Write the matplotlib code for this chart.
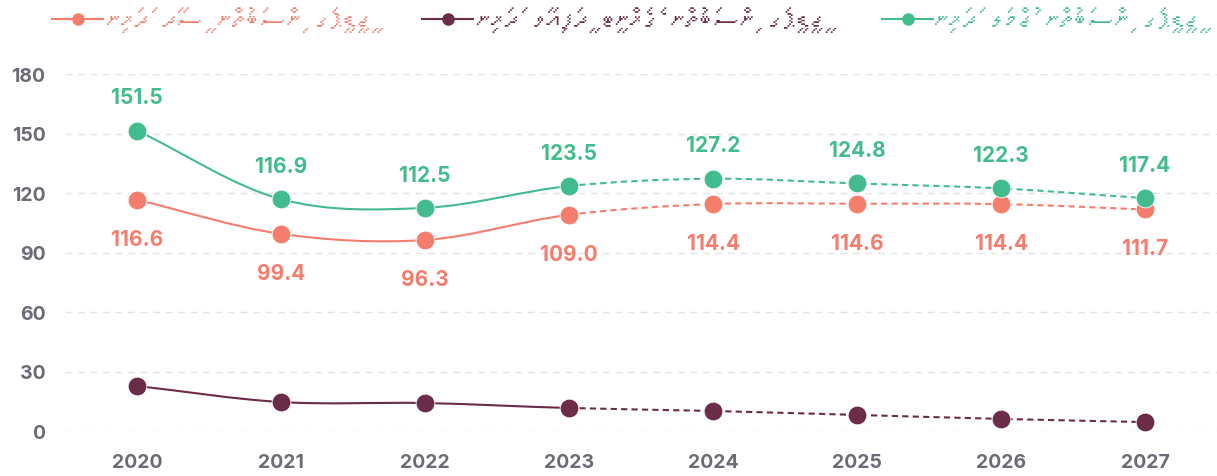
import unicodedata
import matplotlib
matplotlib.use("Agg")
import matplotlib.pyplot as plt
from matplotlib import font_manager
from matplotlib.lines import Line2D
from matplotlib.path import Path
from matplotlib.patches import PathPatch

# data
years = ["2020", "2021", "2022", "2023", "2024", "2025", "2026", "2027"]
total_debt = [151.5, 116.9, 112.5, 123.5, 127.2, 124.8, 122.3, 117.4]
direct_debt = [116.6, 99.4, 96.3, 109.0, 114.4, 114.6, 114.4, 111.7]
guaranteed_debt = [22.7, 14.6, 14.1, 11.6, 10.1, 8.1, 6.1, 4.5]
yticks = [0, 30, 60, 90, 120, 150, 180]

label_total = "ޖީޑީޕީގެ ނިސްބަތުން ޖުމްލަ ދަރަނި"
label_direct = "ޖީޑީޕީގެ ނިސްބަތުން ސީދާ ދަރަނި"
label_guar = "ޖީޑީޕީގެ ނިސްބަތުން ގެރެންޓީ ދީފައިވާ ދަރަނި"

GREEN = "#43bc8d"
RED = "#f47d6d"
PURPLE = "#6a2c49"
GREY = "#6d6a76"
SPLIT = 3  # index where projections start (dashed)


def find_thaana_font():
    for f in font_manager.fontManager.ttflist:
        try:
            ft = matplotlib.ft2font.FT2Font(f.fname)
            if 0x0796 in ft.get_charmap():
                return f.name
        except Exception:
            pass
    return "DejaVu Sans"


def visual_rtl(s):
    # keep base letter + its vowel sign together, then reverse
    clusters = []
    for ch in s:
        if clusters and (unicodedata.combining(ch) or 0x07A6 <= ord(ch) <= 0x07B0):
            clusters[-1] += ch
        else:
            clusters.append(ch)
    return "".join(reversed(clusters))


def spline_paths(xs, ys, split):
    n = len(xs)
    m = []
    for i in range(n):
        a = max(i - 1, 0)
        b = min(i + 1, n - 1)
        m.append(((xs[b] - xs[a]) / (b - a), (ys[b] - ys[a]) / (b - a)))
    def build(i0, i1):
        verts = [(xs[i0], ys[i0])]
        codes = [Path.MOVETO]
        for i in range(i0, i1):
            c1 = (xs[i] + m[i][0] / 3, ys[i] + m[i][1] / 3)
            c2 = (xs[i + 1] - m[i + 1][0] / 3, ys[i + 1] - m[i + 1][1] / 3)
            verts += [c1, c2, (xs[i + 1], ys[i + 1])]
            codes += [Path.CURVE4] * 3
        return Path(verts, codes)
    return build(0, split), build(split, n - 1)


thaana = find_thaana_font()
plt.rcParams["font.family"] = ["Inter", "DejaVu Sans"]

fig = plt.figure(figsize=(12.17, 4.77), dpi=100)
ax = fig.add_axes([65 / 1217, 45 / 477, 1152 / 1217, 357 / 477])

x = list(range(len(years)))
for ys, color in [(guaranteed_debt, PURPLE), (direct_debt, RED), (total_debt, GREEN)]:
    solid, dashed = spline_paths(x, ys, SPLIT)
    ax.add_patch(PathPatch(solid, fill=False, edgecolor=color, lw=1.5, zorder=3))
    ax.add_patch(PathPatch(dashed, fill=False, edgecolor=color, lw=1.5,
                           linestyle=(0, (3, 2)), zorder=3))
    ax.plot(x, ys, "o", color=color, markersize=13.5, zorder=4, clip_on=False,
            markeredgecolor="white", markeredgewidth=0.6)

for i in x:
    ax.annotate(f"{total_debt[i]:.1f}", (i, total_debt[i]), xytext=(0, 24),
                textcoords="offset points", ha="center", va="center",
                color=GREEN, fontsize=15, fontweight="bold")
    ax.annotate(f"{direct_debt[i]:.1f}", (i, direct_debt[i]), xytext=(0, -28),
                textcoords="offset points", ha="center", va="center",
                color=RED, fontsize=15, fontweight="bold")

ax.set_xlim(-0.5, 7.5)
ax.set_ylim(0, 180)
ax.set_xticks(x)
ax.set_xticklabels(years)
ax.set_yticks(yticks)
ax.tick_params(length=0, labelsize=14, labelcolor=GREY)
ax.tick_params(axis="x", pad=16)
ax.tick_params(axis="y", pad=14)
for lab in ax.get_xticklabels() + ax.get_yticklabels():
    lab.set_fontweight("bold")
ax.grid(axis="y", color="#e4e4e4", linestyle=(0, (5, 4)), lw=1)
ax.set_axisbelow(True)
for s in ax.spines.values():
    s.set_visible(False)

# legend, drawn by hand (rtl order: green first on the right)
legend = [(label_direct, RED, 52, 107), (label_guar, PURPLE, 422, 477),
          (label_total, GREEN, 882, 935)]
ly = 1 - 20 / 477
for text, color, x0, tx in legend:
    fig.add_artist(Line2D([x0 / 1217, (x0 + 51) / 1217], [ly, ly], color=color, lw=1.5))
    fig.add_artist(Line2D([(x0 + 26) / 1217], [ly], marker="o", color=color, markersize=8))
    fig.text(tx / 1217, ly, visual_rtl(text), color=color, fontsize=20,
             family=[thaana, "DejaVu Sans"], ha="left", va="center")

fig.savefig("out.png", dpi=100)
